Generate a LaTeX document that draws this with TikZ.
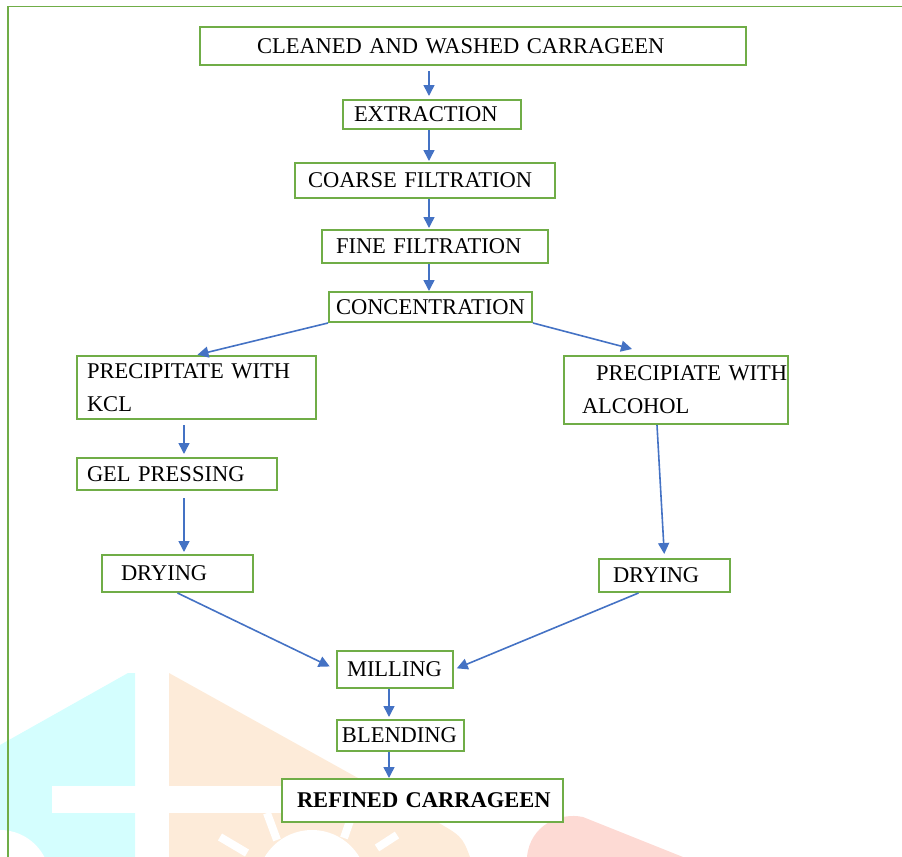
\documentclass[tikz,border=0pt]{standalone}
\usepackage{xcolor}
\usepackage{fontspec}
\setmainfont{Liberation Serif}
\usepackage{tikz}
\usetikzlibrary{calc, positioning, arrows.meta}

\definecolor{boxgreen}{HTML}{70AD47}
\definecolor{flowblue}{HTML}{4472C4}
\definecolor{wmcyan}{HTML}{D4FEFE}
\definecolor{wmpeach}{HTML}{FDEBD9}
\definecolor{wmpink}{HTML}{FDDAD4}

\tikzset{
	stage/.style={draw=boxgreen, line width=1pt, fill=white, align=left, inner ysep=1pt,
		font=\fontsize{11.25}{16.5}\selectfont},
	flow/.style={draw=flowblue, line width=0.8pt, -{Triangle[width=5.5pt, length=5.5pt]}},
}

\begin{document}
\begin{tikzpicture}[x=0.5pt, y=-0.5pt]
		\useasboundingbox (0,0) rectangle (902,857);

		% watermark in the background
		\begin{scope}
			\clip (0,0) rectangle (902,857);
			\fill[wmcyan] (0,745) -- (128,673) -- (135,673) -- (135,857) -- (0,857) -- cycle;
			\fill[wmpeach] (169,673) -- (367,783) -- (430,818) .. controls (462,836) .. (470,857) -- (169,857) -- cycle;
			\fill[wmpink] (527,857) .. controls (530,825) and (560,812) .. (583,817) -- (683,857) -- cycle;
			\fill[white] (52,786) rectangle (282,813);
			\fill[white] (0,880) circle[radius=50];
			\fill[white] (312,885) circle[radius=55];
			\draw[white, line width=4pt] (220,837) -- (247,853) (267,813) -- (277,840)
				(352,815) -- (344,838) (397,835) -- (377,848);
		\end{scope}

		% frame
		\draw[boxgreen, line width=0.5pt] (8,857) -- (8,6) -- (902,6);

		\coordinate (spine) at (429,0);
		\coordinate (lspine) at (184,0);
		\coordinate (mspine) at (389,0);

		\node[stage, text width=216pt, inner xsep=28.5pt, minimum height=19pt] (clean) at (473,46) {CLEANED AND WASHED CARRAGEEN};
		\node[stage, text width=78pt, inner xsep=5.5pt, minimum height=14.5pt] (extract) at (432,114.5) {EXTRACTION};
		\node[stage, text width=117pt, inner xsep=6.5pt, minimum height=17.5pt] (coarse) at (425,180.5) {COARSE FILTRATION};
		\node[stage, text width=99pt, inner xsep=7pt, minimum height=16.5pt] (fine) at (435,246.5) {FINE FILTRATION};
		\node[stage, text width=94.5pt, inner xsep=3.5pt, minimum height=15pt] (conc) at (430.5,307) {\mbox{CONCENTRATION}};

		\node[stage, text width=109.5pt, inner xsep=5pt, minimum height=31.5pt] (kcl) at (196.5,387.5) {PRECIPITATE WITH\\KCL};
		\node[stage, text width=94pt, inner xsep=9pt, minimum height=34pt] (alc) at (676,390) {\mbox{\hspace{7pt}PRECIPIATE WITH}\\ALCOHOL};
		\node[stage, text width=90pt, inner xsep=5pt, minimum height=16pt] (gel) at (177,474) {GEL PRESSING};
		\node[stage, text width=56.5pt, inner xsep=9.5pt, minimum height=18.5pt] (dry1) at (177.5,573.5) {DRYING};
		\node[stage, text width=51.5pt, inner xsep=7pt, minimum height=16.5pt] (dry2) at (664.5,575.5) {DRYING};

		\node[stage, text width=48pt, inner xsep=5pt, minimum height=18.5pt] (mill) at (395,669.5) {MILLING};
		\node[stage, text width=58.5pt, inner xsep=2.5pt, minimum height=15.5pt] (blend) at (400.5,735.5) {BLENDING};
		\node[stage, text width=125.5pt, inner xsep=7.5pt, minimum height=21.5pt] (refined) at (422.5,800.5) {\mbox{\textbf{REFINED CARRAGEEN}}};

		\draw[flow, shorten <=2.5pt, shorten >=1.5pt] (clean.south -| spine) -- (extract.north -| spine);
		\draw[flow, shorten >=0.5pt] (extract.south -| spine) -- (coarse.north -| spine);
		\draw[flow, shorten >=0.5pt] (coarse.south -| spine) -- (fine.north -| spine);
		\draw[flow] (fine.south -| spine) -- (conc.north -| spine);

		\draw[flow, shorten >=0.5pt] (conc.south west) -- (kcl.north);
		\draw[flow] (conc.south east) -- ([xshift=-22pt, yshift=3pt]alc.north);
		\draw[flow, shorten <=2.5pt, shorten >=1.5pt] (kcl.south -| lspine) -- (gel.north -| lspine);
		\draw[flow, shorten <=3.5pt, shorten >=1pt] (gel.south -| lspine) -- (dry1.north -| lspine);
		\draw[flow, shorten >=2pt] ([xshift=-9.5pt]alc.south) -- (dry2.north);

		\draw[flow, shorten >=3.5pt] (dry1.south) -- (mill.west);
		\draw[flow, shorten >=1.5pt] ([xshift=-13pt]dry2.south) -- (mill.east);
		\draw[flow, shorten >=1pt] (mill.south -| mspine) -- (blend.north -| mspine);
		\draw[flow] (blend.south -| mspine) -- (refined.north -| mspine);

	\end{tikzpicture}
\end{document}
